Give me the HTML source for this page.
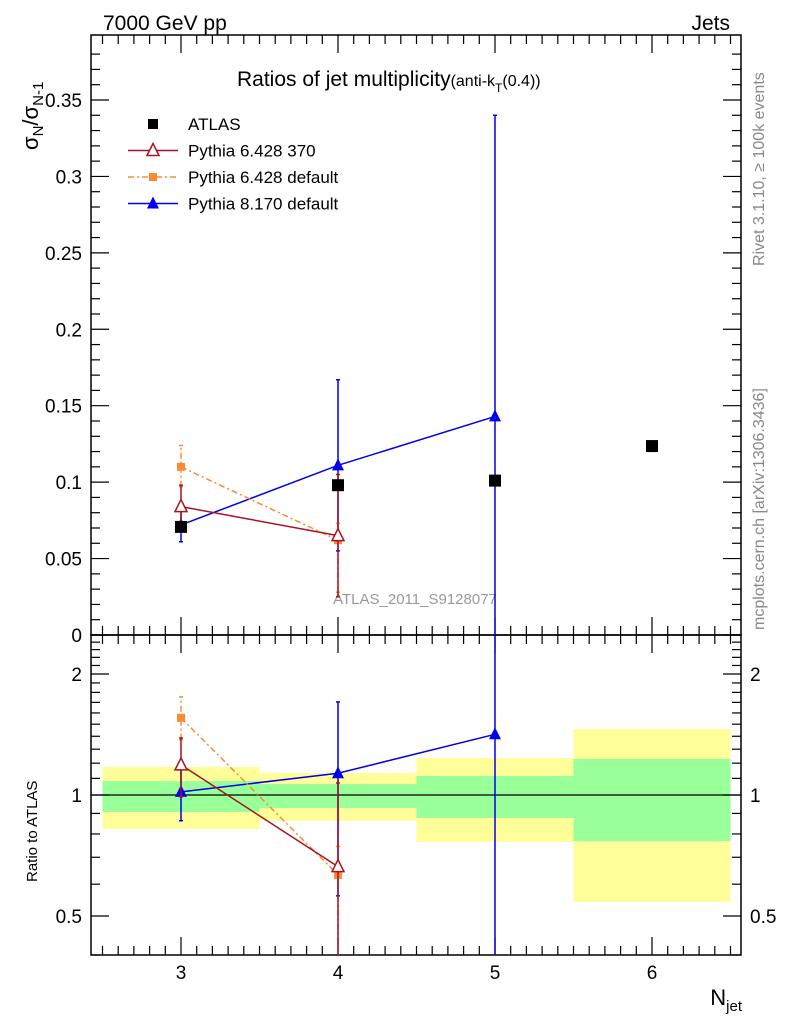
<!DOCTYPE html>
<html><head><meta charset="utf-8"><style>
html,body{margin:0;background:#fff;overflow:hidden;width:786px;height:1024px;}
svg{display:block;font-family:"Liberation Sans",sans-serif;}
</style></head><body>
<svg id="c" width="786" height="1024" viewBox="0 0 786 1024">
<text x="103" y="30" font-size="21">7000 GeV pp</text>
<text x="730" y="30" font-size="21" text-anchor="end">Jets</text>
<text x="237" y="86" font-size="21">Ratios of jet multiplicity<tspan font-size="16">(anti-k</tspan><tspan font-size="12" dy="6">T</tspan><tspan font-size="16" dy="-6">(0.4))</tspan></text>
<text transform="translate(764,266) rotate(-90)" font-size="16" fill="#888">Rivet 3.1.10, ≥ 100k events</text>
<text transform="translate(764,630) rotate(-90)" font-size="16" fill="#888">mcplots.cern.ch [arXiv:1306.3436]</text>
<text transform="translate(38,150) rotate(-90)" font-size="22">σ<tspan font-size="15" dy="5">N</tspan><tspan dy="-5">/σ</tspan><tspan font-size="15" dy="5">N-1</tspan></text>
<text transform="translate(37,882) rotate(-90)" font-size="15">Ratio to ATLAS</text>
<text x="742" y="1005" font-size="22" text-anchor="end">N<tspan font-size="15" dy="6">jet</tspan></text>
<text x="415" y="604" font-size="15" fill="#999" text-anchor="middle">ATLAS_2011_S9128077</text>
<g id="g"></g>
</svg>
<script>
const xCats=[3,4,5,6];
const atlas=[0.0707,0.098,0.101,0.1236];
const p6370=[0.084,0.065];
const p6370Lo=[0.070,0.025];
const p6370Hi=[0.098,0.105];
const p6def=[0.110,0.062];
const p6defLo=[0.097,0.028];
const p6defHi=[0.124,0.073];
const p8=[0.072,0.111,0.143];
const p8Lo=[0.061,0.055,0.0];
const p8Hi=[0.082,0.167,0.340];
const binLo=[2.5,3.5,4.5,5.5];
const binHi=[3.5,4.5,5.5,6.5];
const yelLo=[0.823,0.862,0.764,0.542];
const yelHi=[1.174,1.134,1.236,1.459];
const grnLo=[0.907,0.928,0.877,0.768];
const grnHi=[1.083,1.065,1.115,1.229];
const mainTicks=[0,0.05,0.1,0.15,0.2,0.25,0.3,0.35];
const mainTickLabels=["0","0.05","0.1","0.15","0.2","0.25","0.3","0.35"];
const ratioTicks=[0.5,1,2];
const ratioTickLabels=["0.5","1","2"];

const L=91,R=741,T=35,M=635,B=955;
const X=v=>181+(v-3)*157;
const Y=v=>635-v*1528.6;
const RY=v=>795-Math.log10(v)*402;
const NS="http://www.w3.org/2000/svg";
const g=document.getElementById('g');
function mk(t,a,p){const e=document.createElementNS(NS,t);for(const k in a)e.setAttribute(k,a[k]);(p||g).appendChild(e);return e;}
function line(x1,y1,x2,y2,st,w,da){return mk('line',{x1,y1,x2,y2,stroke:st,'stroke-width':w||1,'stroke-dasharray':da||'none'});}

const defs=mk('defs',{});
const c1=mk('clipPath',{id:'cm'},defs);mk('rect',{x:L,y:T,width:R-L,height:M-T},c1);
const c2=mk('clipPath',{id:'cr'},defs);mk('rect',{x:L,y:M,width:R-L,height:B-M},c2);

const bands=mk('g',{'clip-path':'url(#cr)'});


for(let i=0;i<binLo.length;i++){
  const y=mk('rect',{x:X(binLo[i]),y:RY(yelHi[i]),width:X(binHi[i])-X(binLo[i]),height:RY(yelLo[i])-RY(yelHi[i]),fill:'#ffff99'},bands);
  
  
  const gr=mk('rect',{x:X(binLo[i]),y:RY(grnHi[i]),width:X(binHi[i])-X(binLo[i]),height:RY(grnLo[i])-RY(grnHi[i]),fill:'#99ff99'},bands);
  
  
}
line(L,RY(1),R,RY(1),'#000',1.2);

mk('rect',{x:L,y:T,width:R-L,height:M-T,fill:'none',stroke:'#000','stroke-width':1.5});
mk('rect',{x:L,y:M,width:R-L,height:B-M,fill:'none',stroke:'#000','stroke-width':1.5});

for(let v=2.5;v<=6.55;v+=0.1){
  const major=Math.abs(v-Math.round(v))<0.01;
  const len=major?18:9;
  const xx=X(v);if(xx<L||xx>R)continue;
  [[T,1],[M,1],[M,-1],[B,-1]].forEach(([y0,d])=>line(xx,y0,xx,y0+d*len,'#000',1.2));
}
xCats.forEach(v=>{const t=mk('text',{x:X(v),y:979,'font-size':19,'text-anchor':'middle'});t.textContent=v;

});

for(let v=0;v<=0.39;v+=0.01){
  const major=Math.abs(v*20-Math.round(v*20))<0.01;const len=major?18:9;
  line(L,Y(v),L+len,Y(v),'#000',1.2);line(R,Y(v),R-len,Y(v),'#000',1.2);
}
mainTicks.forEach((v,i)=>{const t=mk('text',{x:82,y:Y(v)+7,'font-size':19,'text-anchor':'end'});t.textContent=mainTickLabels[i];

});

const rmin=[0.4,0.5,0.6,0.7,0.8,0.9,1,1.1,1.2,1.3,1.4,1.5,1.6,1.7,1.8,1.9,2,2.1,2.2,2.3,2.4,2.5];
rmin.forEach(v=>{const major=ratioTicks.includes(v);const len=major?18:9;const y=RY(v);if(y<M||y>B)return;
line(L,y,L+len,y,'#000',1.2);line(R,y,R-len,y,'#000',1.2);});
ratioTicks.forEach((v,i)=>{
 const t=mk('text',{x:82,y:RY(v)+7,'font-size':19,'text-anchor':'end'});t.textContent=ratioTickLabels[i];
 
 
 const t2=mk('text',{x:750,y:RY(v)+7,'font-size':19});t2.textContent=ratioTickLabels[i];
 
 
});

function marker(p,type,x,y,col,s){
  if(type==='sq')mk('rect',{x:x-s,y:y-s,width:2*s,height:2*s,fill:col},p);
  else if(type==='tri')mk('polygon',{points:`${x},${y-s-1} ${x-s},${y+s-1} ${x+s},${y+s-1}`,fill:col},p);
  else mk('polygon',{points:`${x},${y-s-1} ${x-s},${y+s-1} ${x+s},${y+s-1}`,fill:'#fff',stroke:col,'stroke-width':1.5},p);
}
function series(name,vals,lo,hi,col,type,da,s,ratio,noLine){
  const clip=ratio?'url(#cr)':'url(#cm)';
  const p=mk('g',{'clip-path':clip});
  
  
  const yf=ratio?(v,i)=>RY(Math.max(v/atlas[i],0.01)):(v)=>Y(v);
  const pts=vals.map((v,i)=>[X(xCats[i]),yf(v,i)]);
  if(vals.length>1&&!noLine)mk('polyline',{points:pts.map(q=>q.join(',')).join(' '),fill:'none',stroke:col,'stroke-width':1.5,'stroke-dasharray':da||'none'},p);
  vals.forEach((v,i)=>{
    if(lo){const x=pts[i][0],y1=yf(lo[i],i),y2=yf(hi[i],i);
      mk('line',{x1:x,y1:y1,x2:x,y2:y2,stroke:col,'stroke-width':1.5,'stroke-dasharray':da||'none'},p);
      mk('line',{x1:x-2,y1:y1,x2:x+2,y2:y1,stroke:col,'stroke-width':1.5},p);
      mk('line',{x1:x-2,y1:y2,x2:x+2,y2:y2,stroke:col,'stroke-width':1.5},p);}
    marker(p,type,pts[i][0],pts[i][1],col,s);
  });
}
series('pythia8-main',p8,p8Lo,p8Hi,'#0000ee','tri',null,6,false);
series('pythia6-default-main',p6def,p6defLo,p6defHi,'#ff8833','sq','6,3,2,3',4,false);
series('pythia6-370-main',p6370,p6370Lo,p6370Hi,'#aa1122','otri',null,6,false);
series('atlas-data',atlas,null,null,'#000','sq',null,6,false,true);
series('pythia8-ratio',p8,p8Lo,p8Hi,'#0000ee','tri',null,6,true);
series('pythia6-default-ratio',p6def,p6defLo,p6defHi,'#ff8833','sq','6,3,2,3',4,true);
series('pythia6-370-ratio',p6370,p6370Lo,p6370Hi,'#aa1122','otri',null,6,true);

const lg=mk('g',{});


const items=[['ATLAS','#000','sq',null],['Pythia 6.428 370','#aa1122','otri',null],['Pythia 6.428 default','#ff8833','sq','6,3,2,3'],['Pythia 8.170 default','#0000ee','tri',null]];
items.forEach((it,i)=>{
  const y=124+i*26.5;
  const e=mk('g',{},lg);
  
  
  if(i>0)mk('line',{x1:128,y1:y,x2:178,y2:y,stroke:it[1],'stroke-width':1.5,'stroke-dasharray':it[3]||'none'},e);
  marker(e,it[2],153,y,it[1],i===2?4:(i===0?5:6));
  const t=mk('text',{x:188,y:y+6,'font-size':17},e);t.textContent=it[0];
});
</script>
</body></html>
